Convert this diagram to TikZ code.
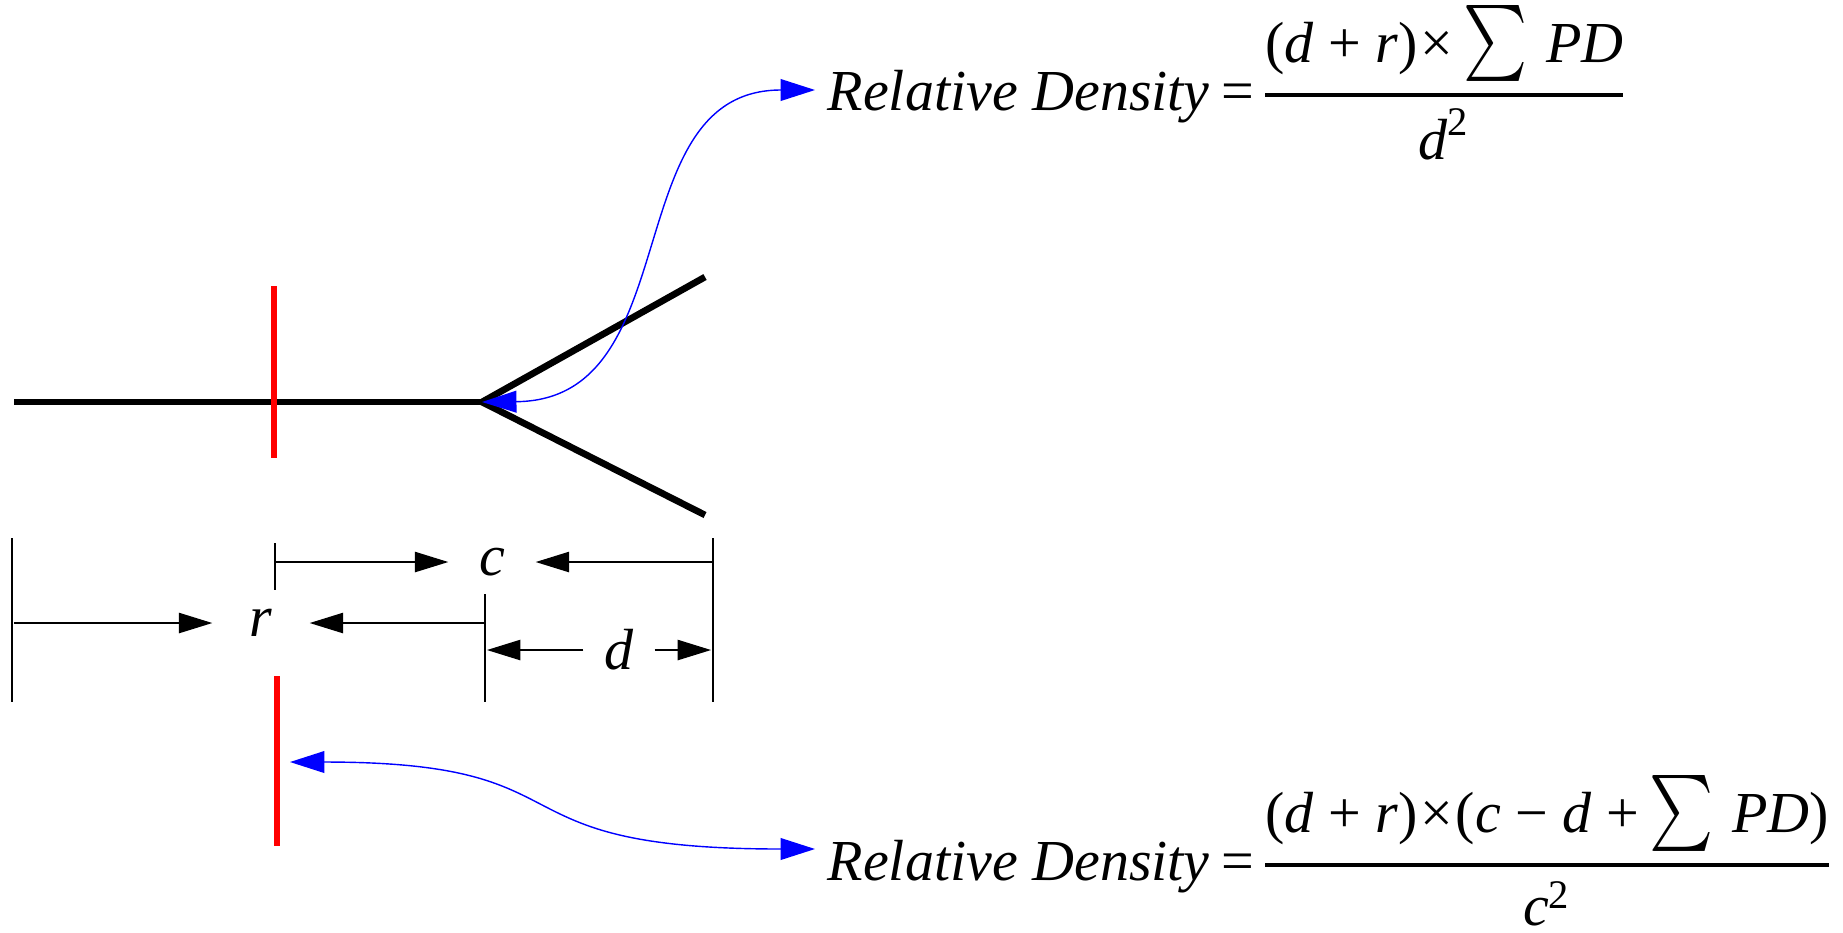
\documentclass[tikz,border=0pt]{standalone}
\usepackage{fontspec}
\usepackage{amsmath}
\usepackage{graphicx}
\setmainfont{Liberation Serif}
\usetikzlibrary{arrows.meta}

\begin{document}
\begin{tikzpicture}[
    x=0.01cm, y=-0.01cm,
    every node/.style={font=\fontsize{16.5}{20}\selectfont},
    beam/.style={line width=1.9pt},
    cut/.style={red, line width=1.8pt},
    dimline/.style={line width=0.35pt},
    dimarrow/.style={-{Triangle[length=9.5pt, width=5.8pt]}, line width=0.35pt},
    link/.style={blue, line width=0.4pt, {Triangle[length=9.8pt, width=6.2pt]}-{Triangle[length=9.8pt, width=6.2pt]}},
    lab/.style={inner sep=0pt},
    eq/.style={inner xsep=0.12cm, inner ysep=0pt, anchor=base west}
]
\useasboundingbox (0,0) rectangle (1843,932);

% Fibre with its fork
\coordinate (fork) at (482,402);
\draw[beam] (14,402) -- (fork);
\draw[beam] (705,277) -- (fork) -- (705,515);

% Red cut marks
\draw[cut] (274,286) -- (274,458);
\draw[cut] (277,676) -- (277,846);
\coordinate (redhit) at (290,762);

% Extension lines
\coordinate (xleft)  at (12,538);
\coordinate (xcut)   at (275,543);
\coordinate (xmid)   at (485,594);
\coordinate (xright) at (713,538);
\draw[dimline] (xleft) -- (12,702);
\draw[dimline] (xcut) -- (275,590);
\draw[dimline] (xmid) -- (485,702);
\draw[dimline] (xright) -- (713,702);

% Dimension labels
\node[lab, minimum width=0.86cm] (clab) at (492,562) {\textit{c}};
\node[lab, minimum width=0.96cm] (rlab) at (261,623) {\textit{r}};
\node[lab, minimum width=0.70cm] (dlab) at (619,650) {\textit{d}};

% Dimension arrows
\draw[dimarrow] (275,562) -- (clab);
\draw[dimarrow] (713,562) -- (clab);
\draw[dimarrow] (14,623) -- (rlab);
\draw[dimarrow] (485,623) -- (rlab);
\draw[dimarrow] (dlab) -- (487,650);
\draw[dimarrow] (dlab) -- (711,650);

% Formulas
\node[eq] (topeq) at (815,110) {\textit{Relative Density}\hspace{0.2em}=\hspace{0.12em}$\genfrac{}{}{1.1pt}{0}{\text{(\textit{d} + \textit{r})\hspace{0.05em}×}\mathop{\scalebox{1}[1.25]{$\textstyle\sum$}}\text{\hspace{0.15em}\textit{PD}}}{\rule{0pt}{13.7pt}\text{\textit{d}}^{\text{2}}}$};
\node[eq] (boteq) at (815,880) {\textit{Relative Density}\hspace{0.2em}=\hspace{0.12em}$\genfrac{}{}{1.1pt}{0}{\text{(\textit{d} + \textit{r})\hspace{0.05em}×\hspace{0.05em}(\textit{c} − \textit{d} +}\mathop{\scalebox{1}[1.25]{$\textstyle\sum$}}\text{\hspace{0.15em}\textit{PD})}}{\rule{0pt}{13.5pt}\text{\textit{c}}^{\text{2}}}$};

% Blue links
\draw[link] (fork) .. controls (690,400) and (615,90) .. ([yshift=0.2cm]topeq.base west);
\draw[link] (redhit) .. controls (600,762) and (480,849) .. ([yshift=0.31cm]boteq.base west);

\end{tikzpicture}
\end{document}
